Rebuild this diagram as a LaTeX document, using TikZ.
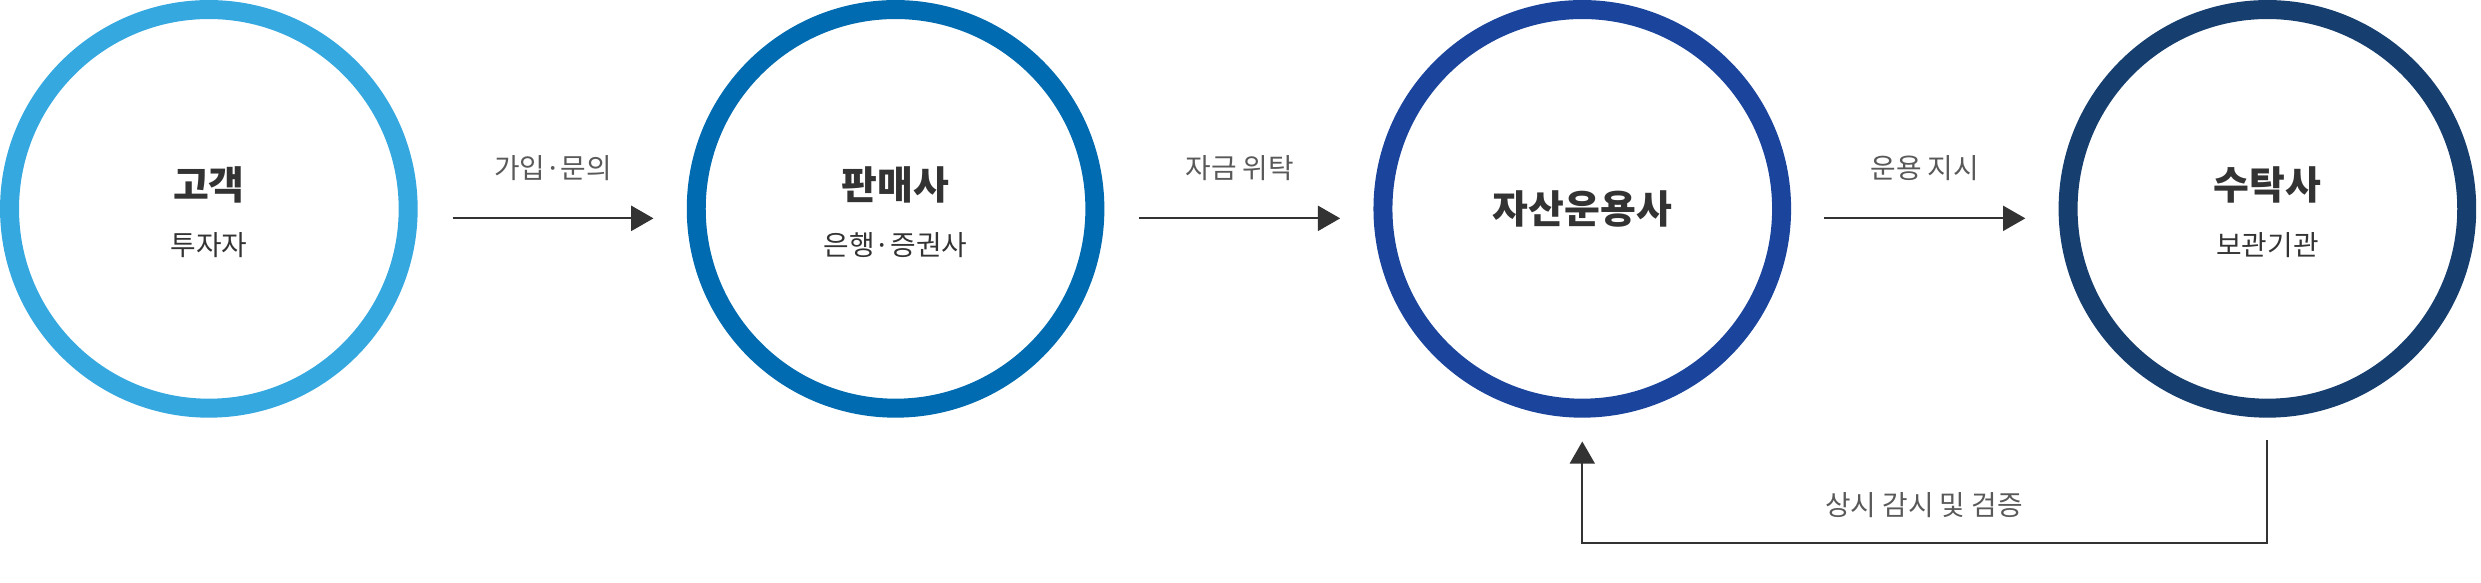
\documentclass[tikz,border=0pt]{standalone}
\usepackage{fontspec}
\setmainfont{Noto Sans CJK KR}
\usetikzlibrary{arrows.meta}
\definecolor{c1}{HTML}{35A8E0}
\definecolor{c2}{HTML}{006BB0}
\definecolor{c3}{HTML}{1B449C}
\definecolor{c4}{HTML}{163E6E}
\definecolor{tx}{HTML}{333333}
\begin{document}
\begin{tikzpicture}[x=0.02cm,y=-0.02cm,
  ring/.style={circle,draw,line width=0.24cm,minimum size=5.04cm,inner sep=0pt},
  ttl/.style={font=\fontsize{14}{16}\selectfont\bfseries,text=tx},
  sub/.style={font=\fontsize{10}{12}\selectfont,text=tx},
  lbl/.style={font=\fontsize{10}{12}\selectfont,text=black!65},
  arr/.style={draw=tx,line width=0.7pt,-{Triangle[length=8pt,width=9pt]}}]
\useasboundingbox (0,0) rectangle (1568,368);
\node[ring,draw=c1] (r1) at (132,132) {};
\node[ring,draw=c2] (r2) at (566,132) {};
\node[ring,draw=c3] (r3) at (1000,132) {};
\node[ring,draw=c4] (r4) at (1433,132) {};
\node[ttl] (t1) at (132,117) {고객};
\node[sub] (s1) at (132,155) {투자자};
\node[ttl] (t2) at (566,117) {판매사};
\node[sub] (s2) at (566,155) {은행·증권사};
\node[ttl] (t3) at (1000,132) {자산운용사};
\node[ttl] (t4) at (1433,117) {수탁사};
\node[sub] (s4) at (1433,155) {보관기관};
\coordinate (a1) at (286,138); \coordinate (b1) at (413,138);
\coordinate (a2) at (720,138); \coordinate (b2) at (847,138);
\coordinate (a3) at (1153,138); \coordinate (b3) at (1280,138);
\draw[arr] (a1) -- (b1) node[lbl,midway,above=10pt] {가입·문의};
\draw[arr] (a2) -- (b2) node[lbl,midway,above=10pt] {자금 위탁};
\draw[arr] (a3) -- (b3) node[lbl,midway,above=10pt] {운용 지시};
\coordinate (f1) at (1433,278); \coordinate (f2) at (1000,279);
\draw[arr] (f1) |- (1216,343) -| (f2);
\node[lbl] (l4) at (1216,319) {상시 감시 및 검증};
\end{tikzpicture}
\end{document}
